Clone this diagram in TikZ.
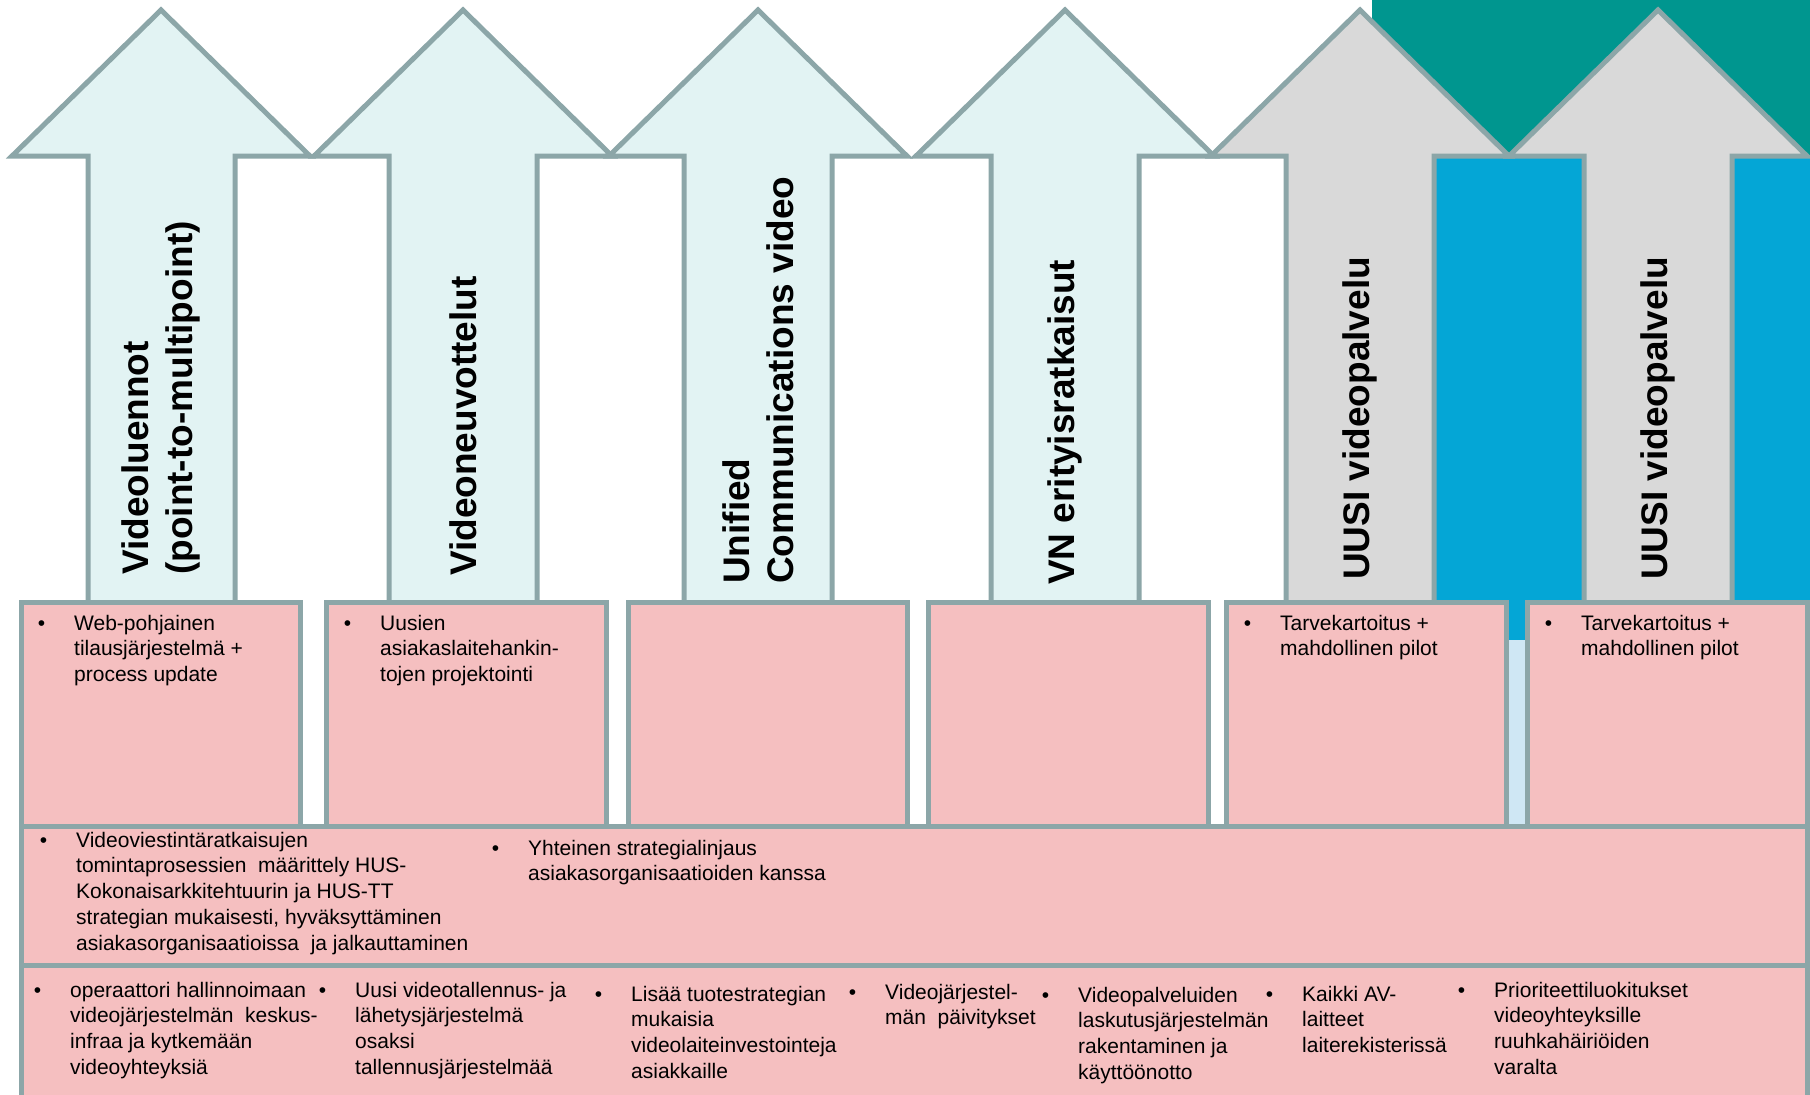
\documentclass[tikz,border=0pt]{standalone}
\usepackage{fontspec}
\setmainfont{Liberation Sans}
\usetikzlibrary{positioning}

\definecolor{edgegray}{HTML}{8CA6A8}
\definecolor{shaftcyan}{HTML}{E2F3F3}
\definecolor{shaftgray}{HTML}{D9D9D9}
\definecolor{cardpink}{HTML}{F5BFC0}
\definecolor{cornerteal}{HTML}{00968F}
\definecolor{bandblue}{HTML}{04A6D6}
\definecolor{paleblue}{HTML}{CFE7F4}

% bullet in the margin, lines set from the first baseline down
\newcommand{\bulitem}[1]{\llap{\textbullet\hspace{29pt}}\begin{tabular}[t]{@{}l@{}}#1\end{tabular}}

\begin{document}
\begin{tikzpicture}[x=1pt, y=-1pt,
    bigarrow/.style={draw=edgegray, line width=5pt, line join=miter},
    card/.style={draw=edgegray, fill=cardpink, line width=5pt, anchor=north west, inner sep=0pt},
    arrowlabel/.style={rotate=90, anchor=west, align=left, inner sep=0pt, font=\bfseries\fontsize{37}{44}\selectfont},
    itemtext/.style={anchor=base west, inner sep=0pt, font=\fontsize{21}{25.8}\selectfont},
]
    \useasboundingbox (0,0) rectangle (1810,1095);
    \clip (0,0) rectangle (1810,1095);

    % Background corner
    \fill[cornerteal] (1372,0) rectangle (1810,160);
    \fill[bandblue] (1372,157) rectangle (1810,640);
    \fill[paleblue] (1372,640) rectangle (1810,830);

    % Arrows
    \draw[bigarrow, fill=shaftcyan] (88,620) -- (88,156) -- (12,156) -- (161,10) -- (310,156) -- (235,156) -- (235,620) -- cycle;
    \draw[bigarrow, fill=shaftcyan] (389,620) -- (389,156) -- (314,156) -- (463,10) -- (612,156) -- (537,156) -- (537,620) -- cycle;
    \draw[bigarrow, fill=shaftcyan] (684,620) -- (684,156) -- (609,156) -- (758,10) -- (907,156) -- (832,156) -- (832,620) -- cycle;
    \draw[bigarrow, fill=shaftcyan] (991,620) -- (991,156) -- (916,156) -- (1065,10) -- (1214,156) -- (1139,156) -- (1139,620) -- cycle;
    \draw[bigarrow, fill=shaftgray] (1286,620) -- (1286,156) -- (1211,156) -- (1360,10) -- (1509,156) -- (1434,156) -- (1434,620) -- cycle;
    \draw[bigarrow, fill=shaftgray] (1584,620) -- (1584,156) -- (1509,156) -- (1658,10) -- (1807,156) -- (1732,156) -- (1732,620) -- cycle;

    % Arrow labels
    \node[arrowlabel] (lbllect) at (161,575) {Videoluennot\\(point-to-multipoint)};
    \node[arrowlabel] (lblconf) at (463,576) {Videoneuvottelut};
    \node[arrowlabel] (lbluc) at (758,584) {Unified\\Communications video};
    \node[arrowlabel] (lblvn) at (1065,585) {VN erityisratkaisut};
    \node[arrowlabel] (lblnewa) at (1360,580) {UUSI videopalvelu};
    \node[arrowlabel] (lblnewb) at (1658,580) {UUSI videopalvelu};

    % Cards under the arrows
    \node[card, minimum width=279, minimum height=224] (boxlect) at (19,600) {};
    \node[card, minimum width=280, minimum height=224] (boxconf) at (324,600) {};
    \node[card, minimum width=279, minimum height=224] (boxuc) at (626,600) {};
    \node[card, minimum width=280, minimum height=224] (boxvn) at (926,600) {};
    \node[card, minimum width=280, minimum height=224] (boxnewa) at (1224,600) {};
    \node[card, minimum width=280, minimum height=224] (boxnewb) at (1525,600) {};

    % Shared bands
    \node[card, minimum width=1786, minimum height=139] (bandmid) at (19,824) {};
    \node[card, minimum width=1786, minimum height=200] (bandlow) at (19,963) {};

    % Card texts
    \node[itemtext] (txtlect) at (74,630) {\bulitem{Web-pohjainen\\tilausjärjestelmä +\\process update}};
    \node[itemtext] (txtconf) at (380,630) {\bulitem{Uusien\\asiakaslaitehankin-\\tojen projektointi}};
    \node[itemtext] (txtnewa) at (1280,630) {\bulitem{Tarvekartoitus +\\mahdollinen pilot}};
    \node[itemtext] (txtnewb) at (1581,630) {\bulitem{Tarvekartoitus +\\mahdollinen pilot}};

    % Middle band texts
    \node[itemtext] (txtproc) at (76,847) {\bulitem{Videoviestintäratkaisujen\\tomintaprosessien~ määrittely HUS-\\Kokonaisarkkitehtuurin ja HUS-TT\\strategian mukaisesti, hyväksyttäminen\\asiakasorganisaatioissa~ ja jalkauttaminen}};
    \node[itemtext] (txtstrat) at (528,855) {\bulitem{Yhteinen strategialinjaus\\asiakasorganisaatioiden kanssa}};

    % Lower band texts
    \node[itemtext] (txtoper) at (70,997) {\bulitem{operaattori hallinnoimaan\\videojärjestelmän~ keskus-\\infraa ja kytkemään\\videoyhteyksiä}};
    \node[itemtext] (txtrec) at (355,997) {\bulitem{Uusi videotallennus- ja\\lähetysjärjestelmä\\osaksi\\tallennusjärjestelmää}};
    \node[itemtext] (txtinv) at (631,1001) {\bulitem{Lisää tuotestrategian\\mukaisia\\videolaiteinvestointeja\\asiakkaille}};
    \node[itemtext] (txtupd) at (885,999) {\bulitem{Videojärjestel-\\män~ päivitykset}};
    \node[itemtext] (txtbill) at (1078,1002) {\bulitem{Videopalveluiden\\laskutusjärjestelmän\\rakentaminen ja\\käyttöönotto}};
    \node[itemtext] (txtav) at (1302,1001) {\bulitem{Kaikki AV-\\laitteet\\laiterekisterissä}};
    \node[itemtext] (txtprio) at (1494,997) {\bulitem{Prioriteettiluokitukset\\videoyhteyksille\\ruuhkahäiriöiden\\varalta}};
\end{tikzpicture}
\end{document}
